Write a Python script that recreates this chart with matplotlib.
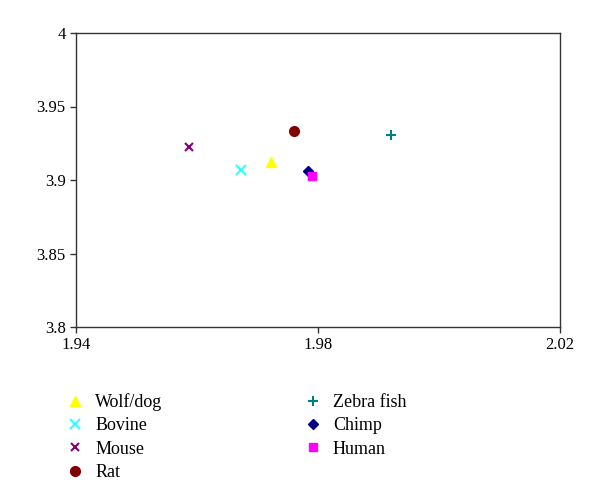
import matplotlib.pyplot as plt

names = ['Wolf/dog', 'Bovine', 'Mouse', 'Rat', 'Zebra fish', 'Chimp', 'Human']
x_vals = [1.9722, 1.9673, 1.9587, 1.9760, 1.9921, 1.9783, 1.9790]
y_vals = [3.9122, 3.9068, 3.9224, 3.9333, 3.9306, 3.9061, 3.9027]
colors = ['#FFFF00', '#33FFFF', '#800080', '#800000', '#008080', '#000080', '#FF00FF']
markers = ['^', 'x', 'x', 'o', '+', 'D', 's']
sizes = [7, 7, 6, 7, 7, 5, 6]

plt.rcParams['font.family'] = ['Liberation Serif', 'DejaVu Serif']

fig = plt.figure(figsize=(6, 5.04), dpi=100)
ax = fig.add_axes([76/600, 1 - 327/504, (560-76)/600, (327-33)/504])

for n, x, y, c, m, s in zip(names, x_vals, y_vals, colors, markers, sizes):
    ax.plot([x], [y], linestyle='none', marker=m, color=c, markersize=s,
            markeredgewidth=1.5 if m in ('x', '+') else 1, label=n)

ax.set_xlim(1.94, 2.02)
ax.set_ylim(3.8, 4.0)
ax.set_xticks([1.94, 1.98, 2.02])
ax.set_xticklabels(['1.94', '1.98', '2.02'])
ax.set_yticks([3.8, 3.85, 3.9, 3.95, 4.0])
ax.set_yticklabels(['3.8', '3.85', '3.9', '3.95', '4'])
ax.tick_params(labelsize=12, length=4, width=1, color='#333333')
for sp in ax.spines.values():
    sp.set_color('#333333')
    sp.set_linewidth(1)

fig.legend(loc='upper left', bbox_to_anchor=(50/600, 1 - 377/504), ncol=2,
           frameon=False, fontsize=13, handlelength=1.0, handletextpad=0.6,
           columnspacing=7.85, labelspacing=0.35)

fig.savefig('out.png', dpi=100)
